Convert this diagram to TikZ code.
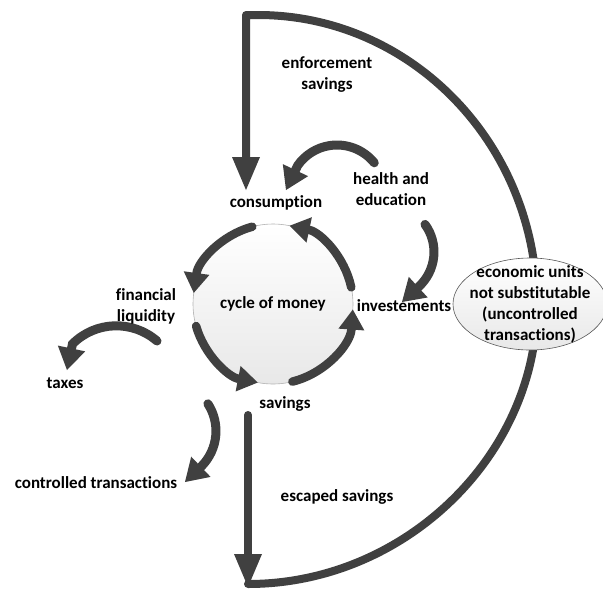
\documentclass[tikz,border=0pt]{standalone}
\usepackage{fontspec}
\setmainfont{Carlito}[Ligatures=NoCommon]
\usetikzlibrary{arrows.meta,shapes.geometric}
\definecolor{ag}{RGB}{64,64,64}
\pgfdeclarelayer{bg}
\pgfsetlayers{bg,main}
\begin{document}
\begin{tikzpicture}[x=1pt,y=1pt,
  lbl/.style={font=\fontsize{17pt}{21pt}\selectfont\bfseries, align=center, inner sep=0pt},
  ring/.style={line width=8.5pt, draw=ag, line cap=round, -{Triangle[length=20pt,width=26pt,line width=0pt]}},
  bendarrow/.style={line width=9pt, draw=ag, line cap=round, -{Triangle[length=22pt,width=28pt,line width=0pt]}},
  bigline/.style={line width=8pt, draw=ag, line cap=round, line join=round},
  bigarrow/.style={bigline, -{Triangle[length=33pt,width=28pt,line width=0pt]}},
  shadedfill/.style={top color=white, bottom color=black!9}
]
\useasboundingbox (0,0) rectangle (603,-590);

% nodes
\node[circle, minimum size=160pt, inner sep=0pt, outer sep=0pt, draw=gray!60, line width=0.6pt, shadedfill, lbl] (cyc) at (273,-304) {cycle of money};
\node[ellipse, minimum width=154pt, minimum height=92pt, inner sep=0pt, outer sep=0pt, draw=black!65, line width=0.6pt, shadedfill] (eu) at (530,-304) {};
\node[lbl] (eut) at (eu.center) {economic units\\not substitutable\\(uncontrolled\\transactions)};

\node[lbl] (cons) at (276,-203) {consumption};
\node[lbl] (hed) at (391,-189) {health and\\education};
\node[lbl] (enf) at (327,-75) {enforcement\\savings};
\node[lbl] (fin) at (146,-306) {financial\\liquidity};
\node[lbl] (inv) at (404,-306) {investements};
\node[lbl] (tax) at (65,-383) {taxes};
\node[lbl] (sav) at (285,-404) {savings};
\node[lbl] (ctl) at (96,-483) {controlled transactions};
\node[lbl] (esc) at (337,-497) {escaped savings};

% cycle arrows
\draw[ring] (cyc.105) arc[start angle=105, end angle=172, radius=80pt];
\draw[ring] (cyc.196) arc[start angle=196, end angle=259, radius=80pt];
\draw[ring] (cyc.284) arc[start angle=284, end angle=356, radius=80pt];
\draw[ring] (cyc.12) arc[start angle=12, end angle=78, radius=80pt];

\begin{pgfonlayer}{bg}
\fill[white] (0,0) rectangle (603,-590);
% named ends
\coordinate (euIn) at (537,-305);
\coordinate (corner) at (246,-15);
\coordinate (consTip) at (246,-190);
\coordinate (savTail) at (248,-415);
\coordinate (bottomTip) at (248,-587);
\coordinate (bottomStart) at (248,-584);
\coordinate (hcS) at (374.3,-162.8);
\coordinate (hcT) at (286,-190);
\coordinate (hiS) at (425,-224.4);
\coordinate (hiT) at (402,-302);
\coordinate (ftS) at (157,-341);
\coordinate (ftT) at (67,-370);
\coordinate (scS) at (207.9,-403.8);
\coordinate (scT) at (185,-482);

% outer loop
\draw[bigarrow] (euIn) .. controls (537,-145) and (412,-15) .. (258,-15) -- (corner) -- (consTip);
\draw[bigarrow] (savTail) -- (bottomTip);
\draw[bigline] (bottomStart) .. controls (405,-584) and (537,-455) .. (euIn);

% curved arrows
\draw[bendarrow] (hcS) arc[start angle=39, end angle=145, radius=48pt] -- (hcT);
\draw[bendarrow] (hiS) arc[start angle=36, end angle=-48, radius=47pt] -- (hiT);
\draw[bendarrow] (ftS) arc[start angle=49, end angle=135, radius=62pt] -- (ftT);
\draw[bendarrow] (scS) arc[start angle=33, end angle=-44, radius=50pt] -- (scT);
\end{pgfonlayer}
\end{tikzpicture}
\end{document}
